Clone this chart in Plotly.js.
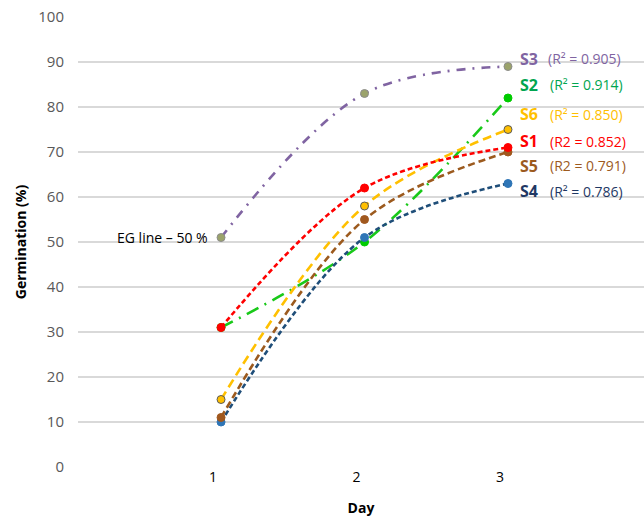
<!DOCTYPE html>
<html>
<head>
<meta charset="utf-8">
<script src="https://cdn.plot.ly/plotly-3.0.1.min.js"></script>
<style>html,body{margin:0;padding:0;background:#fff}#chart{width:644px;height:517px}</style>
</head>
<body>
<div id="chart"></div>
<script>
const days = [1, 2, 3];
const tickLabels = ["1", "2", "3"];
const seriesNames = ["S3", "S2", "S6", "S1", "S5", "S4"];
const r2Labels = ["(R\u00B2 = 0.905)", "(R\u00B2 = 0.914)", "(R\u00B2 = 0.850)", "(R2 = 0.852)", "(R2 = 0.791)", "(R\u00B2 = 0.786)"];
const S3 = [51, 83, 89];
const S2 = [31, 50, 82];
const S6 = [15, 58, 75];
const S1 = [31, 62, 71];
const S5 = [11, 55, 70];
const S4 = [10, 51, 63];
const egLabel = "EG line \u2013 50 %";

const FONT = "Open Sans";
const styles = {
  S3: {line: "#8064A2", dash: "9px,7px,2px,7px", mfill: "#9BA36B", mline: "#8C8C8C", text: "#8064A2", ty: 90.7, tx: 0.826},
  S2: {line: "#19C919", dash: "13px,7px,2px,7px", mfill: "#00CC00", mline: "#00CC00", text: "#00A550", ty: 84.9, tx: 0.831},
  S6: {line: "#FFC000", dash: "9px,5px", mfill: "#FFC000", mline: "#5A5A5A", text: "#FFC000", ty: 78.4, tx: 0.831},
  S1: {line: "#FF0000", dash: "5px,3px", mfill: "#FF0000", mline: "#FF0000", text: "#FF0000", ty: 72.4, tx: 0.831},
  S5: {line: "#9C5A1E", dash: "7px,4px", mfill: "#A0581E", mline: "#A0581E", text: "#9C5A1E", ty: 66.9, tx: 0.831},
  S4: {line: "#1F4E79", dash: "5px,3px", mfill: "#2E75B6", mline: "#2E75B6", text: "#1F3864", ty: 61.3, tx: 0.831}
};
const data = {S3, S2, S6, S1, S5, S4};
const drawOrder = ["S3", "S2", "S4", "S5", "S6", "S1"];

const traces = drawOrder.map(n => ({
  x: days, y: data[n], type: "scatter", mode: "lines+markers", name: n,
  line: {color: styles[n].line, width: 2.6, dash: styles[n].dash, shape: "spline", smoothing: 1},
  marker: {size: 8, color: styles[n].mfill, line: {color: styles[n].mline, width: 1}},
  showlegend: false, hoverinfo: "x+y+name"
}));

const annotations = [];
seriesNames.forEach((n, i) => {
  annotations.push({xref: "paper", yref: "y", x: 0.777, y: styles[n].ty, xanchor: "left", yanchor: "middle",
    text: "<b>" + n + "</b>", showarrow: false, font: {family: FONT, size: 16, color: styles[n].text}});
  annotations.push({xref: "paper", yref: "y", x: styles[n].tx, y: styles[n].ty, xanchor: "left", yanchor: "middle",
    text: r2Labels[i], showarrow: false, font: {family: FONT, size: 14, color: styles[n].text}});
});
annotations.push({xref: "x", yref: "y", x: days[0], y: S3[0], xanchor: "right", yanchor: "middle", xshift: -11,
  text: egLabel, showarrow: false, font: {family: FONT, size: 14, color: "#000"}});

const layout = {
  width: 644, height: 517,
  margin: {l: 78, r: 0, t: 17, b: 50},
  paper_bgcolor: "#fff", plot_bgcolor: "#fff",
  font: {family: FONT},
  xaxis: {range: [0.003, 3.948], tickvals: days, ticktext: tickLabels, ticklabelshift: -8,
    showgrid: false, zeroline: false, showline: false, ticks: "",
    tickfont: {family: FONT, size: 14, color: "#000"},
    title: {text: "<b>Day</b>", font: {family: FONT, size: 14, color: "#000"}, standoff: 18}},
  yaxis: {range: [0, 100], dtick: 10, showgrid: true, gridcolor: "#D9D9D9", gridwidth: 1.3,
    zeroline: false, showline: false, ticks: "", ticklabelstandoff: 13,
    tickfont: {family: FONT, size: 15, color: "#595959"},
    title: {text: "<b>Germination (%)</b>", font: {family: FONT, size: 14, color: "#000"}, standoff: 8}},
  annotations: annotations
};
Plotly.newPlot("chart", traces, layout, {displayModeBar: false, staticPlot: true});
</script>
</body>
</html>
